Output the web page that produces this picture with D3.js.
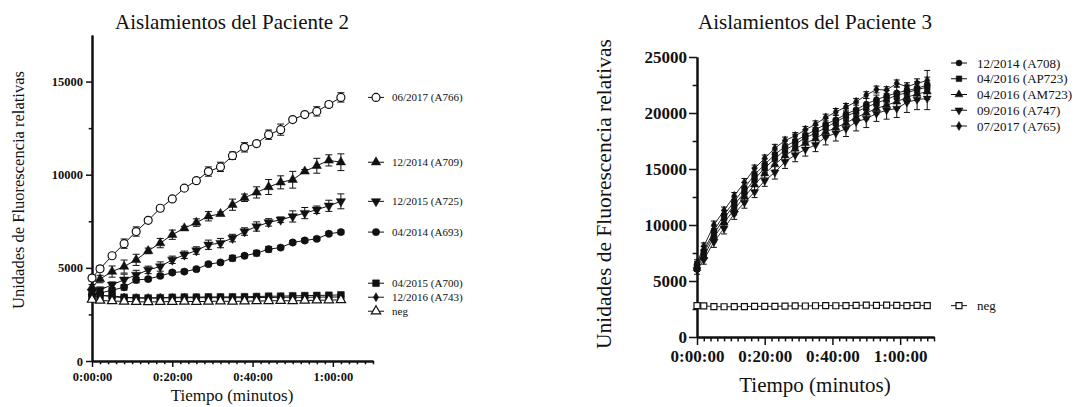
<!DOCTYPE html>
<html><head><meta charset="utf-8">
<script src="https://cdn.jsdelivr.net/npm/d3@7"></script>
<style>
body{margin:0;background:#fff}
svg{display:block}
text{font-family:"Liberation Serif","Times New Roman",serif;fill:#111}
</style>
</head><body>
<svg id="c" width="1089" height="407"></svg>
<script>
// ---------------- DATA ----------------
// Paciente 2 (minutes)
const timesP2 = [0,2,5,8,11,14,17,20,23,26,29,32,35,38,41,44,47,50,53,56,59,62];
const p2Labels = ["06/2017 (A766)","12/2014 (A709)","12/2015 (A725)","04/2014 (A693)","04/2015 (A700)","12/2016 (A743)","neg"];
const p2_A766 = [4450,4950,5650,6300,6950,7550,8200,8700,9280,9680,10170,10420,11020,11470,11670,12150,12420,12960,13230,13400,13770,14150];
const p2_A766_err = [150,150,100,250,250,100,150,100,100,150,250,250,200,250,100,250,300,100,100,250,150,250];
const p2_A709 = [3950,4400,4800,5070,5430,5910,6330,6780,7130,7430,7770,7900,8390,8760,9050,9340,9590,9730,10180,10480,10770,10670];
const p2_A709_err = [150,200,300,350,300,150,250,250,100,200,250,100,300,200,300,400,350,450,100,400,300,450];
const p2_A725 = [3700,3820,4090,4360,4620,4890,5070,5430,5700,5930,6240,6330,6600,6950,7220,7440,7580,7760,7940,8120,8330,8570];
const p2_A725_err = [150,150,150,300,250,200,250,200,200,200,250,250,200,200,250,200,150,300,300,200,300,400];
const p2_A693 = [3550,3650,3800,3960,4350,4400,4570,4750,4800,4930,5200,5290,5520,5650,5790,6000,6090,6360,6470,6560,6830,6920];
const p2_A693_err = [100,100,100,150,150,100,100,100,100,100,100,100,150,100,150,150,100,100,100,100,100,100];
const p2_A700 = [3450,3500,3500,3420,3400,3380,3400,3420,3430,3430,3440,3440,3440,3450,3460,3480,3480,3500,3510,3520,3530,3550];
const p2_A700_err = [100,100,100,80,80,80,80,80,80,80,80,80,80,80,80,80,80,80,80,80,80,80];
const p2_A743 = [3600,3550,3450,3400,3380,3380,3390,3390,3400,3400,3400,3400,3400,3400,3410,3410,3420,3420,3420,3430,3430,3440];
const p2_A743_err = [100,80,80,60,60,60,60,60,60,60,60,60,60,60,60,60,60,60,60,60,60,60];
const p2_neg = [3300,3250,3220,3200,3180,3170,3180,3190,3200,3190,3200,3210,3200,3210,3220,3230,3240,3230,3250,3260,3270,3280];
const p2_neg_err = [60,60,60,60,60,60,60,60,60,60,60,60,60,60,60,60,100,60,60,60,60,60];

// Paciente 3 (minutes)
const timesP3 = [0,2,5,8,11,14,17,20,23,26,29,32,35,38,41,44,47,50,53,56,59,62,65,68];
const p3Labels = ["12/2014 (A708)","04/2016 (AP723)","04/2016 (AM723)","09/2016 (A747)","07/2017 (A765)","neg"];
const p3_A708 = [6400,7700,9500,10900,12100,13300,14500,15400,16300,17000,17500,18000,18500,19000,19400,19900,20300,20800,21200,21500,21800,22000,22200,22500];
const p3_A708_err = [300,400,400,400,400,500,600,500,400,500,600,500,400,500,400,500,600,500,400,500,500,500,600,700];
const p3_AP723 = [6300,7500,9200,10600,11800,12900,14100,15100,15900,16700,17200,17800,18200,18700,19200,19700,20100,20500,20900,21200,21600,21800,22100,22300];
const p3_AP723_err = [400,300,300,400,300,400,300,400,500,300,400,400,300,400,300,400,300,300,300,400,300,400,300,400];
const p3_AM723 = [6150,7200,8900,10200,11400,12500,13600,14600,15400,16200,16800,17300,17700,18300,18700,19100,19600,20000,20400,20700,21000,21400,21700,21900];
const p3_AM723_err = [300,300,400,400,500,400,500,400,500,400,500,400,400,500,400,500,400,600,500,400,600,500,600,700];
const p3_A747 = [6000,6900,8500,9700,11000,12000,12950,13950,14700,15650,16250,16750,17150,17850,18200,18600,19200,19500,19950,20250,20400,20950,21200,21300];
const p3_A747_err = [400,400,500,500,500,500,500,500,600,600,600,600,600,700,700,700,800,800,700,800,800,900,900,1000];
const p3_A765 = [6600,8100,10000,11300,12600,13800,15050,15950,16850,17550,17950,18500,19000,19600,20100,20550,21000,21600,22100,22050,22650,22350,22650,22900];
const p3_A765_err = [300,300,350,300,300,350,300,300,350,300,300,300,300,300,300,300,300,300,300,300,300,350,400,900];
const p3_neg = [2800,2780,2720,2700,2710,2720,2730,2740,2730,2760,2780,2770,2790,2800,2790,2800,2820,2840,2820,2840,2830,2810,2830,2800];
const p3_neg_err = [80,80,80,80,80,80,80,80,80,80,80,80,80,80,80,80,80,80,80,80,80,80,80,80];

const yTicksP2 = [0,5000,10000,15000];
const yTicksP3 = [0,5000,10000,15000,20000,25000];
const xTicks = [0,20,40,60];

// ---------------- DRAW ----------------
const svg = d3.select("#c");
const SERIF = "'Liberation Serif','Times New Roman',serif";
const fmtTime = m => `${Math.floor(m/60)}:${String(m%60).padStart(2,"0")}:00`;

const sym = {
  circleOpen: {t:d3.symbolCircle, open:true},
  circle: {t:d3.symbolCircle},
  triangle: {t:d3.symbolTriangle},
  triangleDown: {t:d3.symbolTriangle, rot:180},
  square: {t:d3.symbolSquare},
  squareOpen: {t:d3.symbolSquare, open:true},
  diamond: {t:d3.symbolDiamond},
  triangleOpen: {t:d3.symbolTriangle, open:true}
};

function drawPanel(cfg){
  const g = svg.append("g");
  const x = d3.scaleLinear().domain([0,70]).range(cfg.xr);
  const y = d3.scaleLinear().domain(cfg.yd).range(cfg.yr);

  const xa = g.append("g").attr("transform",`translate(0,${cfg.yr[0]})`)
    .call(d3.axisBottom(x).tickValues(xTicks).tickFormat(fmtTime).tickSize(cfg.tick).tickSizeOuter(0).tickPadding(cfg.xpad));
  const xm = g.append("g").attr("transform",`translate(0,${cfg.yr[0]})`)
    .call(d3.axisBottom(x).tickValues(d3.range(2,71,2).filter(v=>v%20)).tickFormat("").tickSize(cfg.tick*0.55).tickSizeOuter(0));
  const ya = g.append("g").attr("transform",`translate(${cfg.xr[0]},0)`)
    .call(d3.axisLeft(y).tickValues(cfg.yt).tickFormat(d3.format("d")).tickSize(cfg.tick).tickSizeOuter(0).tickPadding(cfg.ypad));
  const ym = g.append("g").attr("transform",`translate(${cfg.xr[0]},0)`)
    .call(d3.axisLeft(y).tickValues(cfg.yt.slice(0,-1).map(v=>v+2500)).tickFormat("").tickSize(cfg.tick*0.55).tickSizeOuter(0));
  [xa,xm,ya,ym].forEach(a=>{
    a.attr("font-family",SERIF).attr("font-size",cfg.tickFont).attr("font-weight","bold");
    a.select(".domain").attr("stroke","#111").attr("stroke-width",2);
    a.selectAll(".tick line").attr("stroke","#111").attr("stroke-width",1.5);
    a.selectAll(".tick text").attr("fill","#111").style("font-family",SERIF)
      .style("font-weight","bold").style("font-size",cfg.tickFont+"px");
  });

  cfg.series.forEach(s=>{
    const pts = cfg.times.map((t,i)=>({t, v:s.v[i], e:s.e[i]}));
    const sg = g.append("g");
    sg.append("path").datum(pts)
      .attr("d", d3.line().x(d=>x(d.t)).y(d=>y(d.v)))
      .attr("fill","none").attr("stroke","#111").attr("stroke-width",cfg.lw);
    const eb = sg.selectAll(".eb").data(pts).enter().append("g");
    eb.append("line").attr("x1",d=>x(d.t)).attr("x2",d=>x(d.t))
      .attr("y1",d=>y(d.v-d.e)).attr("y2",d=>y(d.v+d.e)).attr("stroke","#111").attr("stroke-width",1);
    [1,-1].forEach(sgn=>{
      eb.append("line").attr("x1",d=>x(d.t)-cfg.cap).attr("x2",d=>x(d.t)+cfg.cap)
        .attr("y1",d=>y(d.v+sgn*d.e)).attr("y2",d=>y(d.v+sgn*d.e)).attr("stroke","#111").attr("stroke-width",1);
    });
    const m = sym[s.m];
    sg.selectAll(".mk").data(pts).enter().append("path")
      .attr("d", d3.symbol(m.t, cfg.msize[s.m]))
      .attr("transform", d=>`translate(${x(d.t)},${y(d.v)})${m.rot?` rotate(${m.rot})`:""}`)
      .attr("fill", m.open?"#fff":"#111").attr("stroke","#111").attr("stroke-width",m.open?1.2:0.5);
  });

  cfg.series.forEach((s,i)=>{
    const ly = cfg.legendY[i];
    const lg = g.append("g");
    lg.append("line").attr("x1",cfg.legX-8).attr("x2",cfg.legX+8).attr("y1",ly).attr("y2",ly)
      .attr("stroke","#111").attr("stroke-width",1);
    const m = sym[s.m];
    lg.append("path").attr("d", d3.symbol(m.t, cfg.msize[s.m]))
      .attr("transform",`translate(${cfg.legX},${ly})${m.rot?` rotate(${m.rot})`:""}`)
      .attr("fill", m.open?"#fff":"#111").attr("stroke","#111").attr("stroke-width",m.open?1.2:0.5);
    lg.append("text").attr("x",cfg.legX+cfg.legTx).attr("y",ly).attr("dy","0.35em")
      .style("font-family",SERIF).style("font-size",cfg.legFont+"px").text(s.label);
  });

  g.append("text").attr("x",cfg.titleX).attr("y",29).attr("text-anchor","middle")
    .style("font-family",SERIF).style("font-size","21px").text(cfg.title);
  g.append("text").attr("transform",`translate(${cfg.ylabX},${cfg.ylabY}) rotate(-90)`)
    .attr("text-anchor","middle").style("font-family",SERIF).style("font-size",cfg.ylabFont+"px")
    .text("Unidades de Fluorescencia relativas");
  g.append("text").attr("x",cfg.titleX).attr("y",cfg.xlabY).attr("text-anchor","middle")
    .style("font-family",SERIF).style("font-size",cfg.xlabFont+"px").text("Tiempo (minutos)");
}

const yP2 = d3.scaleLinear().domain([0,17500]).range([361,35]);
const p2Series = [
  {v:p2_A766,e:p2_A766_err,m:"circleOpen"},
  {v:p2_A709,e:p2_A709_err,m:"triangle"},
  {v:p2_A725,e:p2_A725_err,m:"triangleDown"},
  {v:p2_A693,e:p2_A693_err,m:"circle"},
  {v:p2_A700,e:p2_A700_err,m:"square"},
  {v:p2_A743,e:p2_A743_err,m:"diamond"},
  {v:p2_neg,e:p2_neg_err,m:"triangleOpen"}
].map((s,i)=>({...s,label:p2Labels[i]}));
let p2LegY = p2Series.map(s=>yP2(s.v[s.v.length-1]));
(function(){
  const gap=14;
  for(let it=0;it<50;it++){
    for(let i=0;i<p2LegY.length-1;i++){
      const d = p2LegY[i+1]-p2LegY[i];
      if(d<gap){ const sh=(gap-d)/2; p2LegY[i]-=sh; p2LegY[i+1]+=sh; }
    }
  }
})();

drawPanel({
  xr:[92,373], yr:[361,35], yd:[0,17500], yt:yTicksP2, times:timesP2,
  tick:6, xpad:5, ypad:3, tickFont:12.5, lw:1, cap:3.5,
  msize:{circleOpen:50,circle:42,triangle:38,triangleDown:38,square:46,diamond:24,triangleOpen:38},
  series:p2Series, legendY:p2LegY, legX:376, legTx:16, legFont:11,
  title:"Aislamientos del Paciente 2", titleX:232, ylabX:24, ylabY:190, ylabFont:16.5,
  xlabY:401, xlabFont:17
});

const p3Series = [
  {v:p3_A708,e:p3_A708_err,m:"circle"},
  {v:p3_AP723,e:p3_AP723_err,m:"square"},
  {v:p3_AM723,e:p3_AM723_err,m:"triangle"},
  {v:p3_A747,e:p3_A747_err,m:"triangleDown"},
  {v:p3_A765,e:p3_A765_err,m:"diamond"},
  {v:p3_neg,e:p3_neg_err,m:"squareOpen"}
].map((s,i)=>({...s,label:p3Labels[i]}));
const yP3 = d3.scaleLinear().domain([0,25000]).range([337,57]);
const p3LegY = p3Series.map((s,i)=> i<5 ? 63 + i*15.75 : yP3(s.v[s.v.length-1]));

drawPanel({
  xr:[697,934], yr:[337,57], yd:[0,25000], yt:yTicksP3, times:timesP3,
  tick:8, xpad:5, ypad:2, tickFont:17, lw:0.9, cap:3,
  msize:{circle:28,square:32,triangle:28,triangleDown:28,diamond:24,squareOpen:36},
  series:p3Series, legendY:p3LegY, legX:959, legTx:18, legFont:13,
  title:"Aislamientos del Paciente 3", titleX:815, ylabX:611, ylabY:194, ylabFont:21.5,
  xlabY:392, xlabFont:21
});
</script>
</body></html>
